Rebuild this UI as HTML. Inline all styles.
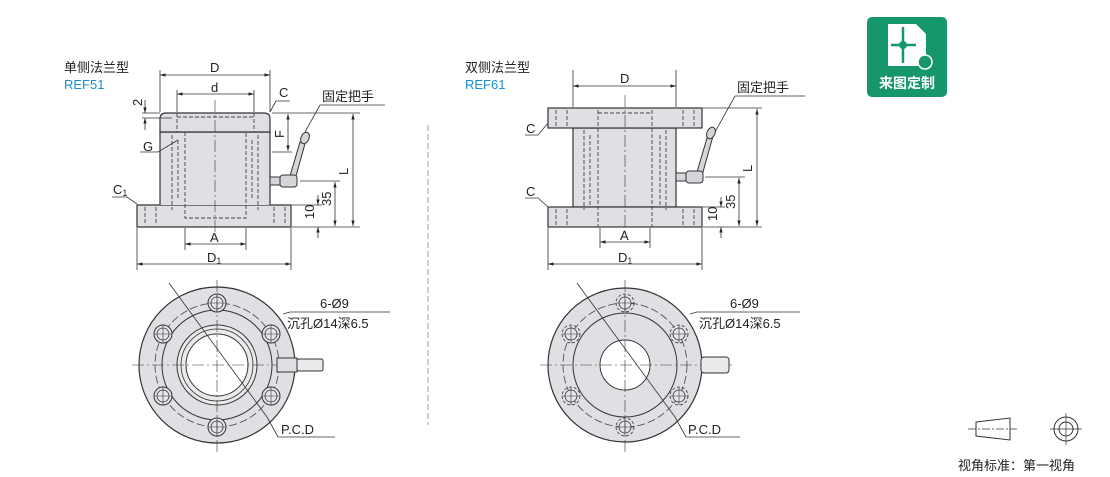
<!DOCTYPE html>
<html><head><meta charset="utf-8"><style>
html,body{margin:0;padding:0;background:#fff;width:1110px;height:477px;overflow:hidden}
svg{display:block}
text{font-family:"Liberation Sans","Noto Sans CJK SC",sans-serif;fill:#222}
</style></head><body>
<svg width="1110" height="477" viewBox="0 0 1110 477" xmlns="http://www.w3.org/2000/svg">
<defs>
<marker id="a" viewBox="0 0 10 10" refX="10" refY="5" markerWidth="7" markerHeight="7" orient="auto-start-reverse"><path d="M0,2 L10,5 L0,8z" fill="#222"/></marker>
<g id="hole"><circle r="9" fill="#e4e5e8" stroke="#333" stroke-width="1"/><circle r="6" fill="none" stroke="#333" stroke-width="0.8"/><line x1="-9" y1="0" x2="9" y2="0" stroke="#333" stroke-width="0.6"/><line x1="0" y1="-9" x2="0" y2="9" stroke="#333" stroke-width="0.6"/></g>
<g id="holed"><circle r="9" fill="none" stroke="#333" stroke-width="0.8" stroke-dasharray="3,2"/><circle r="6" fill="#e4e5e8" stroke="#333" stroke-width="0.8"/><line x1="-9" y1="0" x2="9" y2="0" stroke="#333" stroke-width="0.6"/><line x1="0" y1="-9" x2="0" y2="9" stroke="#333" stroke-width="0.6"/></g>
</defs>
<g font-size="13">
<text x="64" y="72">单侧法兰型</text>
<text x="64" y="89" style="fill:#1a8fd0">REF51</text>
<text x="465" y="72">双侧法兰型</text>
<text x="465" y="89" style="fill:#1a8fd0">REF61</text>
</g>

<!-- LEFT FRONT VIEW -->
<g stroke="#333" stroke-width="1.2" fill="#dfe0e4">
<path d="M137,205 H291 V227 H137 Z"/>
<path d="M160,205 V132 H270 V205"/>
<path d="M160,132 V119 Q160,113 166,113 H264 Q270,113 270,119 V132 Z"/>
</g>
<g stroke="#444" stroke-width="0.9" fill="none" stroke-dasharray="4,2">
<path d="M177,113 V132 M254,113 V132 M177,117 H254"/>
<path d="M185,132 V218 H246 V132"/>
<path d="M172,135 V210 M258,135 V210"/>
<path d="M178,140 V200 M252,140 V200"/>
<path d="M145,207 V225 M156,207 V225 M274,207 V225 M285,207 V225"/>
</g>
<g stroke="#333" stroke-width="0.6" stroke-dasharray="12,3,2,3" fill="none">
<line x1="215" y1="100" x2="215" y2="232"/>
</g>
<g stroke="#333" stroke-width="1" fill="#d5d6da">
<path d="M300,142 L306,140 L296,176 L290,176 Z"/>
<ellipse cx="305" cy="138" rx="4" ry="6" transform="rotate(25 305 138)"/>
<rect x="280" y="175" width="17" height="12" rx="3"/>
<rect x="270" y="177" width="10" height="8"/>
</g>
<g stroke="#333" stroke-width="0.8" fill="none">
<line x1="160" y1="70" x2="160" y2="112"/><line x1="270" y1="70" x2="270" y2="112"/>
<line x1="160" y1="75" x2="270" y2="75" marker-start="url(#a)" marker-end="url(#a)"/>
<line x1="177" y1="90" x2="177" y2="112"/><line x1="254" y1="90" x2="254" y2="112"/>
<line x1="177" y1="94" x2="254" y2="94" marker-start="url(#a)" marker-end="url(#a)"/>
<line x1="185" y1="228" x2="185" y2="250"/><line x1="246" y1="228" x2="246" y2="250"/>
<line x1="185" y1="244" x2="246" y2="244" marker-start="url(#a)" marker-end="url(#a)"/>
<line x1="137" y1="228" x2="137" y2="270"/><line x1="291" y1="228" x2="291" y2="270"/>
<line x1="137" y1="264" x2="291" y2="264" marker-start="url(#a)" marker-end="url(#a)"/>
<line x1="272" y1="113" x2="360" y2="113"/><line x1="292" y1="227" x2="360" y2="227"/>
<line x1="353" y1="114" x2="353" y2="226" marker-start="url(#a)" marker-end="url(#a)"/>
<line x1="300" y1="181" x2="340" y2="181"/>
<line x1="335" y1="182" x2="335" y2="226" marker-start="url(#a)" marker-end="url(#a)"/>
<line x1="292" y1="205" x2="322" y2="205"/>
<line x1="318" y1="195" x2="318" y2="205" marker-end="url(#a)"/>
<line x1="318" y1="238" x2="318" y2="227" marker-end="url(#a)"/>
<line x1="272" y1="152" x2="292" y2="152"/>
<line x1="288" y1="114" x2="288" y2="151" marker-start="url(#a)" marker-end="url(#a)"/>
<line x1="145" y1="100" x2="145" y2="113" marker-end="url(#a)"/>
<line x1="145" y1="130" x2="145" y2="118" marker-end="url(#a)"/>
<line x1="142" y1="113" x2="160" y2="113"/><line x1="142" y1="118" x2="172" y2="118"/>
<path d="M320,105 H385 M320,105 L305,132" /><path d="M276,101 H290 M276,101 L270,112"/>
<path d="M112,197 H127 L137,204"/><path d="M140,152 H158 L178,140"/>
</g>
<g font-size="13">
<text x="210" y="72">D</text><text x="211" y="92">d</text>
<text x="210" y="242">A</text><text x="207" y="262">D<tspan font-size="9" dy="2">1</tspan></text>
<text x="322" y="101">固定把手</text><text x="279" y="97">C</text>
<text x="113" y="194">C<tspan font-size="9" dy="2">1</tspan></text>
<text x="143" y="151">G</text>
<text transform="translate(348,175) rotate(-90)">L</text>
<text transform="translate(331,206) rotate(-90)">35</text>
<text transform="translate(314,219) rotate(-90)">10</text>
<text transform="translate(284,138) rotate(-90)">F</text>
<text transform="translate(142,106) rotate(-90)">2</text>
</g>

<!-- LEFT TOP VIEW -->
<g transform="translate(217,365)">
<circle r="78" fill="#dfe0e4" stroke="#333" stroke-width="1.2"/>
<circle r="62" fill="none" stroke="#444" stroke-width="0.8" stroke-dasharray="8,3"/>
<circle r="55" fill="none" stroke="#333" stroke-width="1"/>
<circle r="40" fill="#e9eaec" stroke="#333" stroke-width="1"/>
<circle r="36" fill="none" stroke="#333" stroke-width="0.8"/>
<circle r="31" fill="#fff" stroke="#333" stroke-width="1"/>
<use href="#hole" x="0" y="-62"/><use href="#hole" x="54" y="-31"/><use href="#hole" x="54" y="31"/>
<use href="#hole" x="0" y="62"/><use href="#hole" x="-54" y="-31"/><use href="#hole" x="-54" y="31"/>
<g stroke="#333" stroke-width="0.6" stroke-dasharray="12,3,2,3"><line x1="-85" y1="0" x2="110" y2="0"/><line x1="0" y1="-85" x2="0" y2="88"/></g>
<rect x="60" y="-7" width="20" height="14" fill="#dfe0e4" stroke="#333"/>
<rect x="80" y="-6" width="26" height="12" rx="2" fill="#e9eaec" stroke="#333"/>
<line x1="-48" y1="-82" x2="50" y2="52" stroke="#333" stroke-width="0.8"/>
</g>
<g stroke="#333" stroke-width="0.8" fill="none">
<path d="M267,417 L278,437 H335"/><path d="M283,314 L290,312 H390"/>
</g>
<g font-size="13"><text x="320" y="308">6-Ø9</text><text x="287" y="328">沉孔Ø14深6.5</text><text x="281" y="434">P.C.D</text></g>

<line x1="428" y1="125" x2="428" y2="425" stroke="#888" stroke-width="0.8" stroke-dasharray="6,3"/>

<!-- RIGHT FRONT VIEW -->
<g stroke="#333" stroke-width="1.2" fill="#dfe0e4">
<rect x="573" y="128" width="103" height="79"/>
<rect x="548" y="108" width="154" height="20"/>
<rect x="548" y="207" width="154" height="20"/>
</g>
<g stroke="#444" stroke-width="0.9" fill="none" stroke-dasharray="4,2">
<path d="M598,110 V227 M652,110 V227 M598,113 H652"/>
<path d="M584,130 V210 M666,130 V210 M590,135 V205 M660,135 V205"/>
<path d="M556,110 V126 M567,110 V126 M683,110 V126 M694,110 V126 M556,209 V225 M567,209 V225 M683,209 V225 M694,209 V225"/>
</g>
<line x1="625" y1="95" x2="625" y2="232" stroke="#333" stroke-width="0.6" stroke-dasharray="12,3,2,3"/>
<g stroke="#333" stroke-width="1" fill="#d5d6da">
<path d="M707,138 L713,136 L703,172 L697,172 Z"/>
<ellipse cx="711" cy="133" rx="4" ry="6" transform="rotate(25 711 133)"/>
<rect x="686" y="171" width="17" height="12" rx="3"/>
<rect x="676" y="173" width="10" height="8"/>
</g>
<g stroke="#333" stroke-width="0.8" fill="none">
<line x1="573" y1="70" x2="573" y2="107"/><line x1="676" y1="70" x2="676" y2="107"/>
<line x1="573" y1="86" x2="676" y2="86" marker-start="url(#a)" marker-end="url(#a)"/>
<line x1="600" y1="228" x2="600" y2="248"/><line x1="650" y1="228" x2="650" y2="248"/>
<line x1="600" y1="242" x2="650" y2="242" marker-start="url(#a)" marker-end="url(#a)"/>
<line x1="548" y1="228" x2="548" y2="270"/><line x1="702" y1="228" x2="702" y2="270"/>
<line x1="548" y1="264" x2="702" y2="264" marker-start="url(#a)" marker-end="url(#a)"/>
<line x1="703" y1="108" x2="762" y2="108"/><line x1="703" y1="227" x2="762" y2="227"/>
<line x1="757" y1="109" x2="757" y2="226" marker-start="url(#a)" marker-end="url(#a)"/>
<line x1="705" y1="177" x2="745" y2="177"/>
<line x1="739" y1="178" x2="739" y2="226" marker-start="url(#a)" marker-end="url(#a)"/>
<line x1="703" y1="207" x2="725" y2="207"/>
<line x1="721" y1="197" x2="721" y2="207" marker-end="url(#a)"/>
<line x1="721" y1="238" x2="721" y2="227" marker-end="url(#a)"/>
<path d="M735,96 H805 M735,96 L715,132"/>
<path d="M525,135 H538 L548,123"/><path d="M525,198 H538 L548,207"/>
</g>
<g font-size="13">
<text x="620" y="83">D</text><text x="620" y="240">A</text>
<text x="618" y="262">D<tspan font-size="9" dy="2">1</tspan></text>
<text x="737" y="92">固定把手</text><text x="526" y="133">C</text><text x="526" y="196">C</text>
<text transform="translate(752,172) rotate(-90)">L</text>
<text transform="translate(735,209) rotate(-90)">35</text>
<text transform="translate(717,221) rotate(-90)">10</text>
</g>

<!-- RIGHT TOP VIEW -->
<g transform="translate(625,365)">
<circle r="77" fill="#dfe0e4" stroke="#333" stroke-width="1.2"/>
<circle r="62" fill="none" stroke="#444" stroke-width="0.8" stroke-dasharray="8,3"/>
<circle r="52" fill="none" stroke="#333" stroke-width="1"/>
<circle r="25" fill="#fff" stroke="#333" stroke-width="1"/>
<use href="#holed" x="0" y="-62"/><use href="#holed" x="54" y="-31"/><use href="#holed" x="54" y="31"/>
<use href="#holed" x="0" y="62"/><use href="#holed" x="-54" y="-31"/><use href="#holed" x="-54" y="31"/>
<g stroke="#333" stroke-width="0.6" stroke-dasharray="12,3,2,3"><line x1="-85" y1="0" x2="110" y2="0"/><line x1="0" y1="-85" x2="0" y2="88"/></g>
<rect x="76" y="-8" width="28" height="16" rx="3" fill="#e9eaec" stroke="#333"/>
<line x1="-48" y1="-82" x2="50" y2="52" stroke="#333" stroke-width="0.8"/>
</g>
<g stroke="#333" stroke-width="0.8" fill="none">
<path d="M675,417 L686,437 H740"/><path d="M690,314 L697,312 H800"/>
</g>
<g font-size="13"><text x="730" y="308">6-Ø9</text><text x="699" y="328">沉孔Ø14深6.5</text><text x="688" y="434">P.C.D</text></g>

<!-- green badge -->
<rect x="867" y="17" width="80" height="80" rx="5" fill="#16976b"/>
<path d="M888,24 H916 L926,34 V66 H888 Z" fill="#fff"/>
<line x1="903" y1="27" x2="903" y2="63" stroke="#16976b" stroke-width="2.5"/>
<line x1="891" y1="45" x2="916" y2="45" stroke="#16976b" stroke-width="2.5"/>
<circle cx="903" cy="45" r="4" fill="#16976b"/>
<circle cx="925" cy="62" r="7" fill="#16976b" stroke="#fff" stroke-width="1.5"/>
<text x="907" y="88" text-anchor="middle" font-size="14" font-weight="bold" style="fill:#fff">来图定制</text>

<!-- projection symbol -->
<g stroke="#333" stroke-width="1" fill="none">
<path d="M976,422 L1010,418 V440 L976,436 Z"/>
<line x1="968" y1="429" x2="1017" y2="429" stroke-dasharray="8,2,2,2" stroke-width="0.7"/>
<circle cx="1066" cy="429" r="12"/><circle cx="1066" cy="429" r="7"/>
<line x1="1050" y1="429" x2="1082" y2="429" stroke-width="0.7"/><line x1="1066" y1="413" x2="1066" y2="445" stroke-width="0.7"/>
</g>
<text x="958" y="470" font-size="13">视角标准：第一视角</text>
</svg>
</body></html>
